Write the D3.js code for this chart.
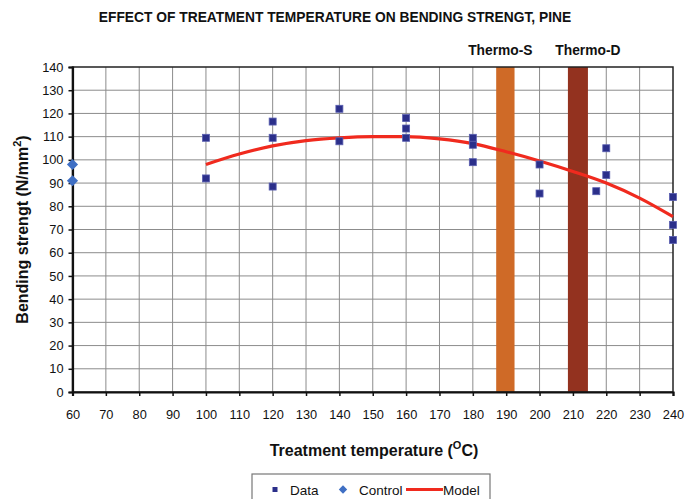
<!DOCTYPE html>
<html>
<head>
<meta charset="utf-8">
<script src="https://cdn.jsdelivr.net/npm/d3@7"></script>
<style>
  body { margin: 0; background: #fff; }
  text { font-family: "Liberation Sans", Arial, sans-serif; fill: #111; }
</style>
</head>
<body>
<div id="chart"></div>
<script>
"use strict";

// measured points
var dataTemp = [100, 100, 120, 120, 120, 140, 140, 160, 160, 160, 180, 180, 180, 200, 200, 217, 220, 220, 240, 240, 240];
var dataStrength = [109.5, 92, 116.5, 109.5, 88.5, 122, 108, 118, 113.5, 109.5, 109.5, 106.5, 99, 98, 85.5, 86.5, 105, 93.5, 84, 72, 65.5];

// untreated control
var controlTemp = [60, 60];
var controlStrength = [98, 91];

// fitted model
var modelTemp = [100, 110, 120, 130, 140, 150, 160, 170, 180, 190, 200, 210, 220, 230, 240];
var modelStrength = [98, 102.5, 106, 108.3, 109.5, 110, 110, 109, 107, 103.5, 99.5, 95, 90, 83.5, 75.5];

// process bands
var bandLabels = ["Thermo-S", "Thermo-D"];
var bandFrom = [187, 208.5];
var bandTo = [192.5, 214.5];
var bandColors = ["#cf6a27", "#93321f"];

var xTicks = d3.range(60, 241, 10);
var yTicks = d3.range(0, 141, 10);

var W = 690, H = 499;
var margin = { top: 67, right: 17, bottom: 107, left: 72.5 };

var svg = d3.select("#chart").append("svg")
    .attr("width", W)
    .attr("height", H);

var x = d3.scaleLinear().domain([60, 240]).range([margin.left, W - margin.right]);
var y = d3.scaleLinear().domain([0, 140]).range([H - margin.bottom, margin.top]);

// grid
svg.append("g").selectAll("line.v")
   .data(xTicks.slice(1, -1))
   .enter().append("line")
   .attr("x1", function (d) { return x(d); })
   .attr("x2", function (d) { return x(d); })
   .attr("y1", y(0)).attr("y2", y(140))
   .attr("stroke", "#8c8c8c").attr("stroke-width", 1);

svg.append("g").selectAll("line.h")
   .data(yTicks.slice(1, -1))
   .enter().append("line")
   .attr("x1", x(60)).attr("x2", x(240))
   .attr("y1", function (d) { return y(d); })
   .attr("y2", function (d) { return y(d); })
   .attr("stroke", "#8c8c8c").attr("stroke-width", 1);

// bands
bandLabels.forEach(function (lab, i) {
    svg.append("rect")
       .attr("x", x(bandFrom[i]))
       .attr("width", x(bandTo[i]) - x(bandFrom[i]))
       .attr("y", y(140))
       .attr("height", y(0) - y(140))
       .attr("fill", bandColors[i]);
    svg.append("text")
       .attr("x", (x(bandFrom[i]) + x(bandTo[i])) / 2 + (i == 0 ? -5 : 10))
       .attr("y", 55)
       .attr("text-anchor", "middle")
       .style("font-size", "13.8px")
       .style("font-weight", "bold")
       .text(lab);
});

// frame
svg.append("rect")
   .attr("x", x(60)).attr("y", y(140))
   .attr("width", x(240) - x(60)).attr("height", y(0) - y(140))
   .attr("fill", "none").attr("stroke", "#222").attr("stroke-width", 1.5);

// axes
var xAxis = svg.append("g")
   .attr("transform", "translate(0," + y(0) + ")")
   .call(d3.axisBottom(x).tickValues(xTicks).tickSize(4).tickPadding(14));
var yAxis = svg.append("g")
   .attr("transform", "translate(" + x(60) + ",0)")
   .call(d3.axisLeft(y).tickValues(yTicks).tickSize(4).tickPadding(5));
[xAxis, yAxis].forEach(function (g) {
    g.select(".domain").attr("stroke", "#111").attr("stroke-width", 2.2);
    g.selectAll(".tick line").attr("stroke", "#111").attr("stroke-width", 1.5);
    g.selectAll(".tick text")
     .style("font-family", "'Liberation Sans', Arial, sans-serif")
     .style("font-size", "12.8px")
     .attr("fill", "#111");
});

// model line
var line = d3.line()
   .x(function (d) { return x(d[0]); })
   .y(function (d) { return y(d[1]); })
   .curve(d3.curveMonotoneX);
svg.append("path")
   .datum(d3.zip(modelTemp, modelStrength))
   .attr("d", line)
   .attr("fill", "none")
   .attr("stroke", "#f02a1e")
   .attr("stroke-width", 3.2);

// data squares
svg.append("g").selectAll("rect")
   .data(d3.zip(dataTemp, dataStrength))
   .enter().append("rect")
   .attr("x", function (d) { return x(d[0]) - 3.5; })
   .attr("y", function (d) { return y(d[1]) - 3.5; })
   .attr("width", 7).attr("height", 7)
   .attr("fill", "#2b2f8a")
   .attr("stroke", "#5a5fb0").attr("stroke-width", 0.8);

// control diamonds
var diamond = d3.symbol().type(d3.symbolDiamond2).size(80);
svg.append("g").selectAll("path")
   .data(d3.zip(controlTemp, controlStrength))
   .enter().append("path")
   .attr("d", diamond)
   .attr("transform", function (d) { return "translate(" + x(d[0]) + "," + y(d[1]) + ")"; })
   .attr("fill", "#3f6fc4");

// titles
svg.append("text")
   .attr("x", 335).attr("y", 22)
   .attr("text-anchor", "middle")
   .style("font-size", "13.8px").style("font-weight", "bold")
   .text("EFFECT OF TREATMENT TEMPERATURE ON BENDING STRENGT, PINE");

var xt = svg.append("text")
   .attr("x", 374).attr("y", 456)
   .attr("text-anchor", "middle")
   .style("font-size", "16px").style("font-weight", "bold");
xt.append("tspan").text("Treatment temperature (");
xt.append("tspan").attr("dy", -7).style("font-size", "11px").text("O");
xt.append("tspan").attr("dy", 7).text("C)");

var yt = svg.append("text")
   .attr("transform", "translate(28," + ((y(0) + y(140)) / 2) + ") rotate(-90)")
   .attr("text-anchor", "middle")
   .style("font-size", "16px").style("font-weight", "bold");
yt.append("tspan").text("Bending strengt (N/mm");
yt.append("tspan").attr("dy", -7).style("font-size", "11px").text("2");
yt.append("tspan").attr("dy", 7).text(")");

// legend
var leg = svg.append("g");
leg.append("rect")
   .attr("x", 252).attr("y", 474).attr("width", 238).attr("height", 40)
   .attr("fill", "#fff").attr("stroke", "#777").attr("stroke-width", 1.2);
leg.append("rect").attr("x", 272.5).attr("y", 487).attr("width", 5).attr("height", 5).attr("fill", "#2b2f8a");
leg.append("text").attr("x", 290).attr("y", 494.5).style("font-size", "13.5px").text("Data");
leg.append("path").attr("d", d3.symbol().type(d3.symbolDiamond2).size(45))
   .attr("transform", "translate(343,489.5)").attr("fill", "#3f6fc4");
leg.append("text").attr("x", 359).attr("y", 494.5).style("font-size", "13.5px").text("Control");
leg.append("line").attr("x1", 406).attr("x2", 443).attr("y1", 489.5).attr("y2", 489.5)
   .attr("stroke", "#f02a1e").attr("stroke-width", 3.2);
leg.append("text").attr("x", 443).attr("y", 494.5).style("font-size", "13.5px").text("Model");
</script>
</body>
</html>
